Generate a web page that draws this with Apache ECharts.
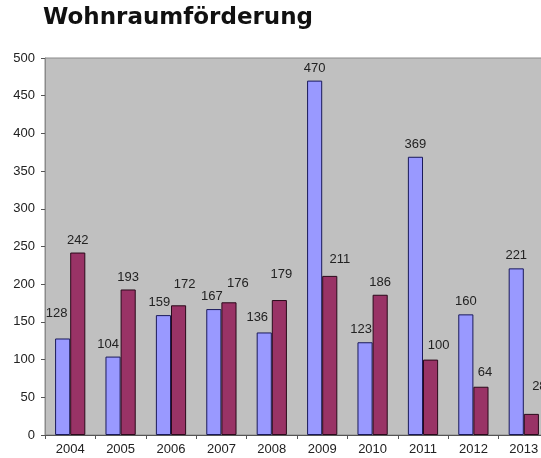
<!DOCTYPE html>
<html lang="de">
<head>
<meta charset="UTF-8">
<script src="https://cdn.jsdelivr.net/npm/echarts@6/dist/echarts.min.js"></script>
<style>
  html, body { margin: 0; padding: 0; background: #fff; }
  #main { width: 541px; height: 458px; }
</style>
<title>Wohnraumförderung</title>
</head>
<body>
<div id="main"></div>
<script>
var years = ['2004', '2005', '2006', '2007', '2008', '2009', '2010', '2011', '2012', '2013'];
var seriesA = [128, 104, 159, 167, 136, 470, 123, 369, 160, 221];
var seriesB = [242, 193, 172, 176, 179, 211, 186, 100, 64, 28];

// label nudges as placed in the original (px, [dx, dy])
var nudgeA = [[-6, -13], [-5, 0], [-4, 0], [-2, 0], [-7, -3], [0, 0], [-4, 0], [0, 0], [0, 0], [0, 0]];
var nudgeB = [[0, 0], [0, 0], [6, -8], [9, -6], [2, -13], [10, -4], [0, 0], [8, -2], [4, -2], [8, -15]];

var chart = echarts.init(document.getElementById('main'));

function withNudge(values, nudge) {
    return values.map(function (v, i) {
        return { value: v, label: { offset: nudge[i] } };
    });
}

var label = {
    show: true,
    position: 'top',
    distance: 6,
    color: '#222',
    fontFamily: 'Liberation Sans, Arial, sans-serif',
    fontSize: 13
};

chart.setOption({
    animation: false,
    title: {
        text: 'Wohnraumförderung',
        left: 43,
        top: 7,
        padding: 0,
        textStyle: {
            fontFamily: 'DejaVu Sans, sans-serif',
            fontWeight: 'bold',
            fontSize: 23,
            color: '#111'
        }
    },
    grid: {
        left: 45,
        right: -8,
        top: 58,
        bottom: 23,
        outerBoundsMode: 'none',
        show: true,
        backgroundColor: '#c0c0c0',
        borderColor: '#8a8a8a',
        borderWidth: 1
    },
    xAxis: {
        type: 'category',
        data: years,
        axisLine: { lineStyle: { color: '#555' } },
        axisTick: { show: true, length: 4, lineStyle: { color: '#555' } },
        axisLabel: {
            color: '#222',
            fontFamily: 'Liberation Sans, Arial, sans-serif',
            fontSize: 13,
            margin: 8
        }
    },
    yAxis: {
        type: 'value',
        min: 0,
        max: 500,
        interval: 50,
        splitLine: { show: false },
        axisLine: { show: true, lineStyle: { color: '#8a8a8a' } },
        axisTick: { show: true, length: 4, lineStyle: { color: '#555' } },
        axisLabel: {
            color: '#222',
            fontFamily: 'Liberation Sans, Arial, sans-serif',
            fontSize: 13,
            margin: 10
        }
    },
    series: [
        {
            type: 'bar',
            data: withNudge(seriesA, nudgeA),
            barGap: '0%',
            barCategoryGap: '40%',
            itemStyle: { color: '#9999ff', borderColor: '#1a1a5a', borderWidth: 1 },
            label: label
        },
        {
            type: 'bar',
            data: withNudge(seriesB, nudgeB),
            itemStyle: { color: '#993366', borderColor: '#2a0a1a', borderWidth: 1 },
            label: label
        }
    ]
});
</script>
</body>
</html>
